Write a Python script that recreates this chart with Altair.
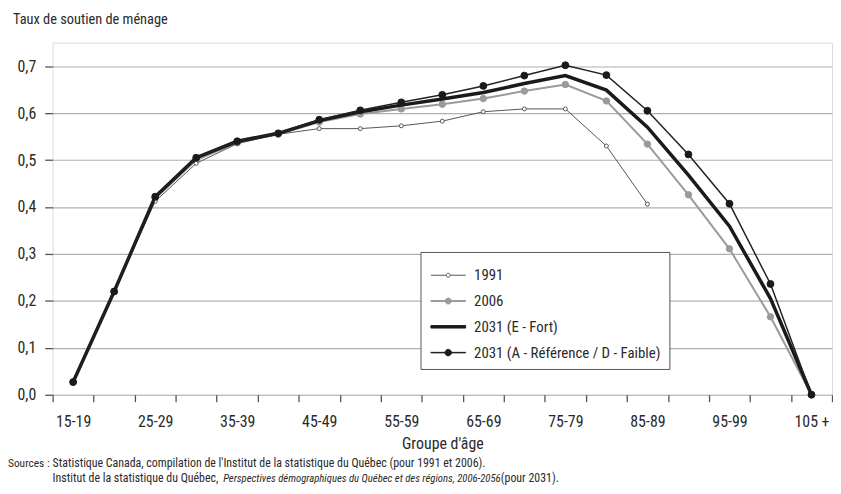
import altair as alt
import pandas as pd

ages = ["15-19", "20-24", "25-29", "30-34", "35-39", "40-44", "45-49", "50-54",
        "55-59", "60-64", "65-69", "70-74", "75-79", "80-84", "85-89", "90-94",
        "95-99", "100-104", "105 +"]
shown_ages = ["15-19", "25-29", "35-39", "45-49", "55-59", "65-69", "75-79",
              "85-89", "95-99", "105 +"]
series = ["1991", "2006", "2031 (E - Fort)", "2031 (A - Référence / D - Faible)"]

y1991 = [0.027, 0.220, 0.412, 0.493, 0.535, 0.555, 0.567, 0.567, 0.573, 0.583,
         0.603, 0.609, 0.609, 0.530, 0.406]
y2006 = [0.027, 0.220, 0.418, 0.500, 0.537, 0.555, 0.581, 0.598, 0.609, 0.619,
         0.631, 0.647, 0.661, 0.626, 0.534, 0.426, 0.311, 0.166, 0.0]
y2031e = [0.027, 0.220, 0.422, 0.505, 0.540, 0.557, 0.584, 0.603, 0.617, 0.630,
          0.644, 0.663, 0.680, 0.649, 0.570, 0.468, 0.359, 0.205, 0.0]
y2031a = [0.027, 0.220, 0.422, 0.505, 0.540, 0.557, 0.586, 0.606, 0.623, 0.639,
          0.658, 0.680, 0.702, 0.681, 0.605, 0.512, 0.407, 0.236, 0.0]

y_ticks = [0.0, 0.1, 0.2, 0.3, 0.4, 0.5, 0.6, 0.7]

title_text = ["Taux de soutien de ménage"]
x_title = "Groupe d'âge"
src_label = ["Sources :"]
src_line1 = ["Statistique Canada, compilation de l'Institut de la statistique du Québec (pour 1991 et 2006)."]
src_line2a = ["Institut de la statistique du Québec,"]
src_line2b = ["Perspectives démographiques du Québec et des régions, 2006-2056"]
src_line2c = ["(pour 2031)."]

FONT = "Liberation Sans Narrow, Arial Narrow, Roboto Condensed, Liberation Sans, sans-serif"
TXT = "#2a2a2a"

rows = []
for name, vals in zip(series, [y1991, y2006, y2031e, y2031a]):
    for a, v in zip(ages, vals):
        rows.append({"series": name, "age": a, "value": v})
df = pd.DataFrame(rows)

shown_js = "[" + ",".join("'" + s + "'" for s in shown_ages) + "]"

x_enc = alt.X(
    "age:N", sort=ages, bandPosition=0.5,
    scale=alt.Scale(type="band", domain=ages, paddingInner=0, paddingOuter=0),
    axis=alt.Axis(
        labelExpr="indexof(" + shown_js + ", datum.value) >= 0 ? datum.value : ''",
        labelAngle=0, tickBand="extent", tickSize=7, tickColor="#555", tickWidth=1.3,
        domain=False, grid=False, labelFont=FONT, labelFontSize=16, labelColor=TXT,
        labelPadding=12, title=x_title, titleFont=FONT, titleFontSize=16,
        titleFontWeight="normal", titleColor=TXT, titlePadding=6,
    ),
)
y_enc = alt.Y(
    "value:Q",
    scale=alt.Scale(domain=[0, 0.75], nice=False, zero=True),
    axis=alt.Axis(
        values=y_ticks, labelExpr="replace(format(datum.value, '.1f'), '.', ',')",
        tickSize=8, tickColor="#555", tickWidth=1.3, grid=True, gridColor="#b0b0b0",
        gridWidth=1.2, domain=False, labelFont=FONT, labelFontSize=16,
        labelColor=TXT, labelPadding=9, title=None,
    ),
)

base = alt.Chart(df).encode(x=x_enc, y=y_enc)

line_style = {
    "1991": dict(color="#555555", strokeWidth=1),
    "2006": dict(color="#9a9a9a", strokeWidth=2),
    "2031 (E - Fort)": dict(color="#1a1a1a", strokeWidth=3.5),
    "2031 (A - Référence / D - Faible)": dict(color="#222222", strokeWidth=1.5),
}
point_style = {
    "1991": dict(shape="circle", size=16, filled=True, fill="white", stroke="#555555", strokeWidth=1),
    "2006": dict(shape="circle", size=42, filled=True, fill="#9a9a9a", stroke="#9a9a9a", strokeWidth=1),
    "2031 (A - Référence / D - Faible)": dict(shape="circle", size=48, filled=True, fill="#1a1a1a", stroke="#1a1a1a", strokeWidth=1),
}

layers = []
for name in ["2006", "1991", "2031 (E - Fort)", "2031 (A - Référence / D - Faible)"]:
    flt = alt.datum.series == name
    layers.append(base.transform_filter(flt).mark_line(**line_style[name]))
    if name in point_style:
        layers.append(base.transform_filter(flt).mark_point(opacity=1, **point_style[name]))

# legend symbols: a line with an optional marker, in symbol units (1 unit = 5 px)
def circ(r, cx=2.5):
    return "M{a},0A{r},{r},0,1,1,{b},0A{r},{r},0,1,1,{a},0Z".format(a=cx - r, b=cx + r, r=r)

def bar(h):
    return "M-1,-{h}H6V{h}H-1Z".format(h=h)

shapes = [
    "M-1,0H2.1M2.9,0H6" + circ(0.4),
    bar(0.1) + circ(0.6),
    bar(0.25),
    bar(0.05) + circ(0.65),
]
strokes = ["#555555", "#9a9a9a", "#1a1a1a", "#1a1a1a"]
fills = ["white", "#9a9a9a", "#1a1a1a", "#1a1a1a"]

LEG_X, LEG_Y = 371, 211
leg = alt.Legend(
    title=" ", titleFontSize=1, titlePadding=7, orient="none",
    legendX=LEG_X, legendY=LEG_Y, direction="vertical",
    labelFont=FONT, labelFontSize=15, labelColor=TXT, labelOffset=31, labelLimit=0,
    padding=8, rowPadding=10, strokeColor="#555", fillColor="white",
    symbolSize=100, symbolStrokeWidth=1, symbolOpacity=1,
)
legend_layer = alt.Chart(pd.DataFrame({"series": series})).transform_filter("false").mark_point(
    filled=False, opacity=1
).encode(
    shape=alt.Shape("series:N", scale=alt.Scale(domain=series, range=shapes), legend=leg),
    stroke=alt.Stroke("series:N", scale=alt.Scale(domain=series, range=strokes), legend=leg),
    fill=alt.Fill("series:N", scale=alt.Scale(domain=series, range=fills), legend=leg),
)

# drop shadow behind the legend box
shadow = alt.Chart(pd.DataFrame({"k": [0]})).mark_rect(color="#333333").encode(
    x=alt.value(LEG_X + 3), x2=alt.value(LEG_X + 251),
    y=alt.value(LEG_Y + 3), y2=alt.value(LEG_Y + 117),
)

def text_layer(lines, x, y, size, italic=False, align="left"):
    return alt.Chart(pd.DataFrame({"t": lines})).mark_text(
        align=align, baseline="alphabetic", font=FONT, fontSize=size, color=TXT,
        fontStyle="italic" if italic else "normal",
    ).encode(x=alt.value(x), y=alt.value(y), text="t:N")

texts = [
    text_layer(title_text, -40, -19, 14.5),
    text_layer(src_label, -45, 428, 11.5),
    text_layer(src_line1, 0, 428, 12),
    text_layer(src_line2a, 0, 443, 12),
    text_layer(src_line2b, 172, 443, 10.8, italic=True),
    text_layer(src_line2c, 452, 443, 12),
]

chart = alt.layer(*layers, shadow, legend_layer, *texts).properties(
    width=786, height=355,
    padding={"left": 45, "top": 33, "right": 1, "bottom": 90},
    autosize=alt.AutoSizeParams(type="none"),
).configure_view(stroke="#888888", strokeWidth=1.5).configure(background="white")

chart.save("out.html", embed_options={"renderer": "svg", "actions": False})
